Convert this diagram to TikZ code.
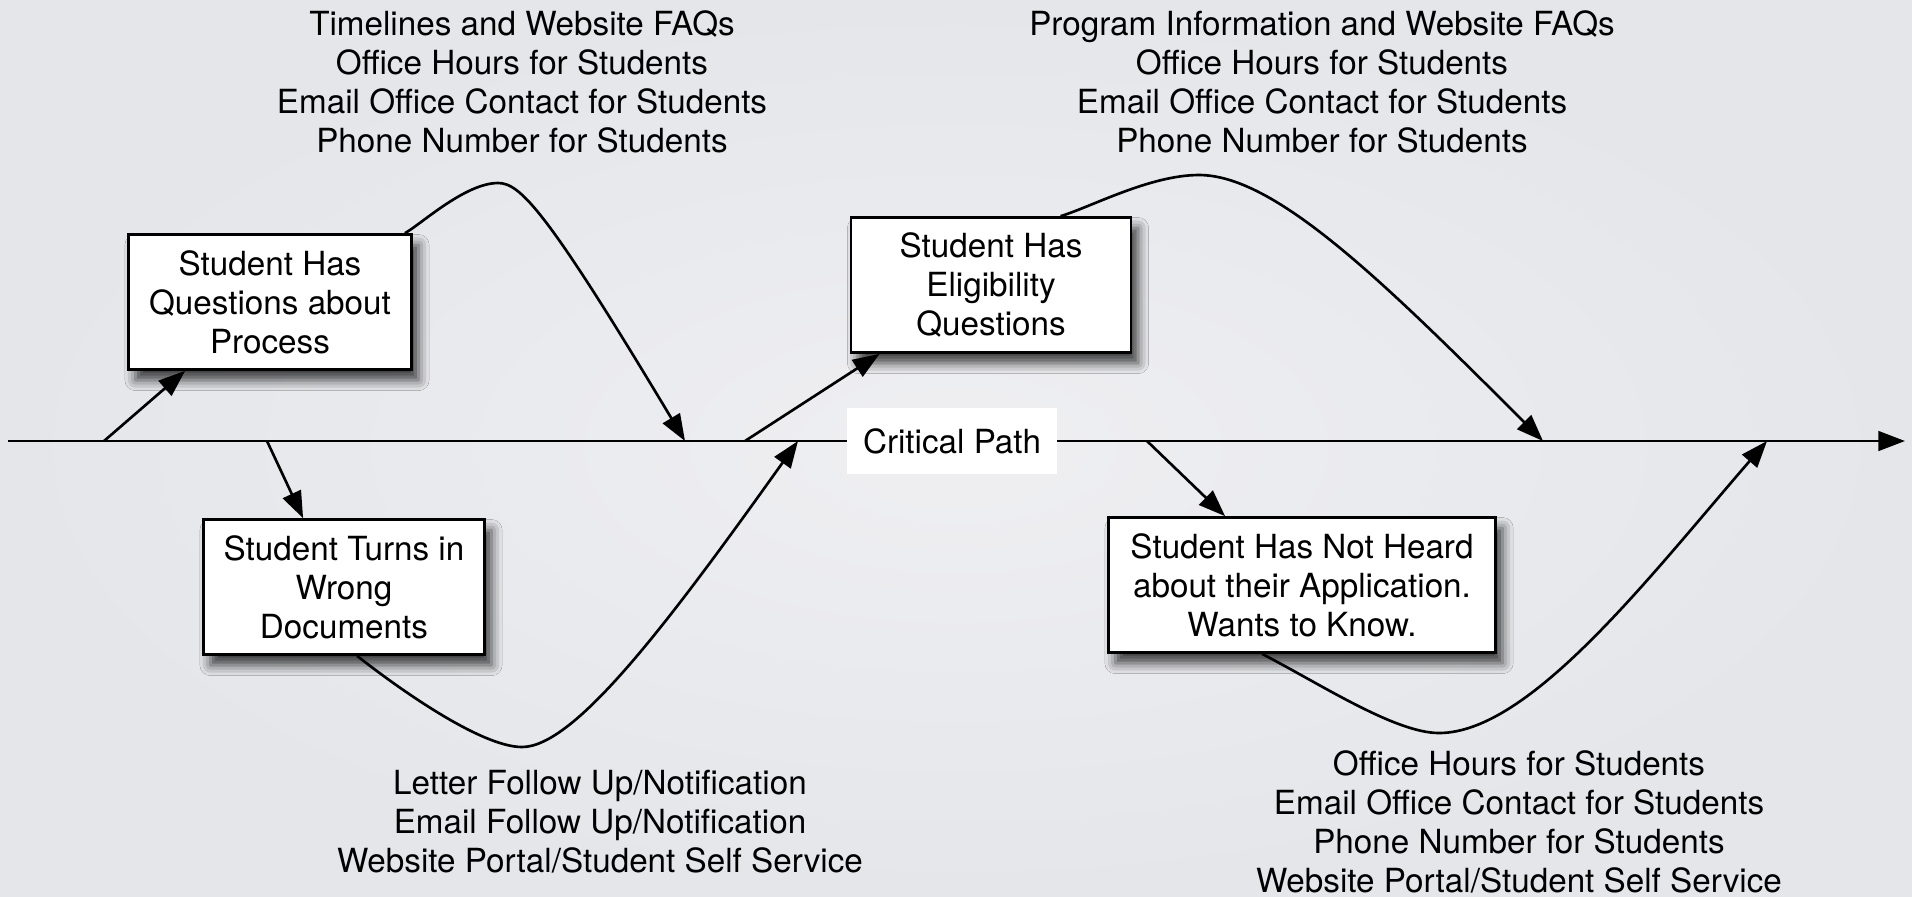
\documentclass[tikz,border=0pt]{standalone}
\usepackage{fontspec}
\setmainfont{TeX Gyre Heros}
\usepackage{tikz}
\usetikzlibrary{calc,arrows.meta,shadows.blur}

\definecolor{bgcentre}{RGB}{239,239,242}
\definecolor{bgedge}{RGB}{228,230,234}

\begin{document}
\begin{tikzpicture}[x=0.01cm,y=-0.01cm,
  font=\fontsize{9.45pt}{11.06pt}\selectfont,
  issue/.style={draw,line width=0.75pt,fill=white,align=center,inner sep=0pt,minimum height=1.35cm,
    blur shadow={shadow xshift=2pt,shadow yshift=-3pt,shadow blur radius=3pt,shadow opacity=75}},
  channels/.style={align=center,inner sep=0pt},
  flow/.style={line width=0.75pt,-{Triangle[length=7.6pt,width=5.6pt]}}]
\useasboundingbox (0,0) rectangle (1912,896);
\shade[inner color=bgcentre,outer color=bgedge] (0,0) rectangle (1912,896);

% the critical path
\coordinate (spine_start) at (8,441);
\coordinate (spine_end) at (1905,441);
\draw[flow] (spine_start) to (spine_end);
\node[fill=white,minimum width=2.09cm,minimum height=0.66cm,inner sep=0pt] (critical) at (952,441) {Critical Path};

% where the branches leave and rejoin the path
\coordinate (to_process) at (104,441);
\coordinate (to_wrong) at (267,441);
\coordinate (to_elig) at (745,441);
\coordinate (to_heard) at (1147,441);
\coordinate (back_a) at (685,441);
\coordinate (back_b) at (798,441);
\coordinate (back_c) at (1543,441);
\coordinate (back_d) at (1767,441);

% Issues
\node[issue,minimum width=2.83cm] (process) at (270,302) {Student Has\\Questions about\\Process};
\node[issue,minimum width=2.81cm] (wrong_docs) at (344,587) {Student Turns in\\Wrong\\Documents};
\node[issue,minimum width=2.80cm] (eligibility) at (991,285) {Student Has\\Eligibility\\Questions};
\node[issue,minimum width=3.87cm] (not_heard) at (1302,585) {Student Has Not Heard\\about their Application.\\Wants to Know.};

% Channels that answer them
\node[channels] (help_process) at (522,82) {Timelines and Website FAQs\\Office Hours for Students\\Email Office Contact for Students\\Phone Number for Students};
\node[channels] (help_elig) at (1322,82) {Program Information and Website FAQs\\Office Hours for Students\\Email Office Contact for Students\\Phone Number for Students};
\node[channels] (help_wrong) at (600,822) {Letter Follow Up/Notification\\Email Follow Up/Notification\\Website Portal/Student Self Service};
\node[channels] (help_heard) at (1519,822) {Office Hours for Students\\Email Office Contact for Students\\Phone Number for Students\\Website Portal/Student Self Service};

% turning points of the loops
\coordinate (hump_a) at (498,183);
\coordinate (dip_a) at (522,747);
\coordinate (hump_b) at (1199,175);
\coordinate (dip_b) at (1439,733);

\draw[flow] (to_process) to ($(process.south west)+(58,0)$);
\draw[flow] (to_wrong) to ($(wrong_docs.north west)+(101,0)$);
\draw[flow] ($(process.north east)+(-8,0)$) .. controls +(15,-8) and +(-33,0) .. (hump_a) .. controls +(22,0) and +(-139,-232) .. (back_a);
\draw[flow] ($(wrong_docs.south west)+(155,0)$) .. controls +(38,30) and +(-42,0) .. (dip_a) .. controls +(53,0) and +(-129,181) .. (back_b);

\draw[flow] (to_elig) to ($(eligibility.south west)+(30,0)$);
\draw[flow] (to_heard) to ($(not_heard.north west)+(118,0)$);
\draw[flow] ($(eligibility.north west)+(211,0)$) .. controls +(30,-9) and +(-49,0) .. (hump_b) .. controls +(76,0) and +(-160,-160) .. (back_c);
\draw[flow] ($(not_heard.south west)+(155,0)$) .. controls +(58,30) and +(-44,0) .. (dip_b) .. controls +(91,0) and +(-117,135) .. (back_d);
\end{tikzpicture}
\end{document}
